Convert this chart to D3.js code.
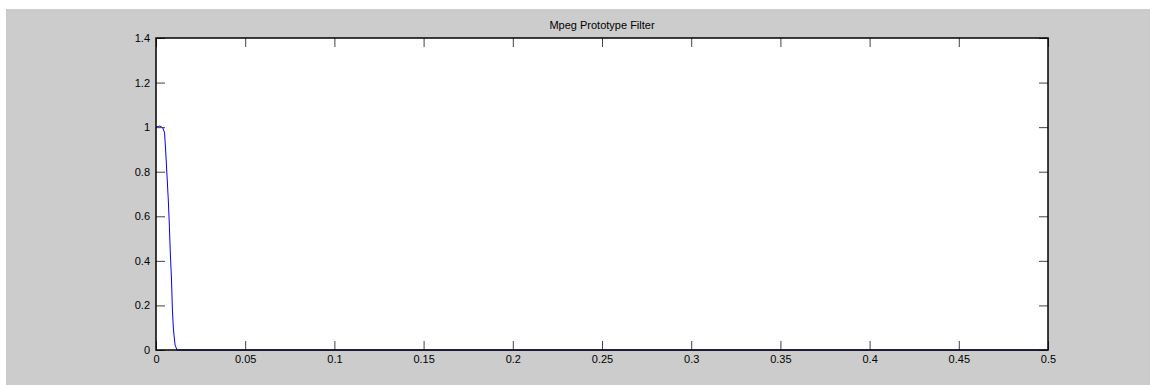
<!DOCTYPE html>
<html lang="en">
<head>
  <meta charset="UTF-8">
  <title>Mpeg Prototype Filter</title>
  <script src="https://d3js.org/d3.v7.min.js"></script>
  <style>
    body { margin: 0; background: #fff; }
    svg { display: block; font-family: "Liberation Sans", Arial, sans-serif; }
    .axis text { font-size: 11px; fill: #000; }
    .axis path { display: none; }
    .axis line { stroke: #444; }
  </style>
</head>
<body>
  <svg width="1150" height="385"></svg>

  <script>
    // frequency response (normalised frequency vs magnitude)
    const freq = [0, 0.0022, 0.0039, 0.0048, 0.0054, 0.0063, 0.0069, 0.0075, 0.0080, 0.0087, 0.0092, 0.0098, 0.0107, 0.0118, 0.05, 0.1, 0.2, 0.3, 0.4, 0.5];
    const magnitude = [1.0, 1.005, 0.996, 0.974, 0.897, 0.763, 0.673, 0.556, 0.44, 0.314, 0.179, 0.09, 0.022, 0, 0, 0, 0, 0, 0, 0];
    const xTicks = [0, 0.05, 0.1, 0.15, 0.2, 0.25, 0.3, 0.35, 0.4, 0.45, 0.5];
    const yTicks = [0, 0.2, 0.4, 0.6, 0.8, 1, 1.2, 1.4];
    const title = "Mpeg Prototype Filter";

    const svg = d3.select("svg");
    const margin = {top: 38, right: 102, bottom: 35, left: 156};
    const width = 1150 - margin.left - margin.right;
    const height = 385 - margin.top - margin.bottom;

    // grey figure background
    svg.append("rect").attr("x", 6).attr("y", 9).attr("width", 1144).attr("height", 376).attr("fill", "#cccccc");

    const chart = svg.append("g").attr("transform", `translate(${margin.left},${margin.top})`);
    chart.append("rect").attr("width", width).attr("height", height).attr("fill", "#fff");

    const x = d3.scaleLinear().domain([0, 0.5]).range([0, width]);
    const y = d3.scaleLinear().domain([0, 1.4]).range([height, 0]);
    const fmt = d => String(+d.toFixed(2));

    const data = freq.map((f, i) => ({f, m: magnitude[i]}));

    chart.append("path")
      .datum(data)
      .attr("fill", "none")
      .attr("stroke", "#0000ff")
      .attr("stroke-width", 1)
      .attr("d", d3.line().x(d => x(d.f)).y(d => y(d.m)));

    // ticks on every side, pointing inward
    chart.append("g").attr("class", "axis")
      .attr("transform", `translate(0,${height})`)
      .call(d3.axisBottom(x).tickValues(xTicks).tickFormat(fmt).tickSizeInner(-9).tickPadding(5));
    chart.append("g").attr("class", "axis")
      .call(d3.axisTop(x).tickValues(xTicks).tickFormat("").tickSizeInner(-9));
    chart.append("g").attr("class", "axis")
      .call(d3.axisLeft(y).tickValues(yTicks).tickFormat(fmt).tickSizeInner(-9).tickPadding(6));
    chart.append("g").attr("class", "axis")
      .attr("transform", `translate(${width},0)`)
      .call(d3.axisRight(y).tickValues(yTicks).tickFormat("").tickSizeInner(-9));

    chart.append("rect")
      .attr("width", width).attr("height", height)
      .attr("fill", "none").attr("stroke", "#000").attr("stroke-width", 1.5);

    svg.append("text")
      .attr("x", margin.left + width / 2)
      .attr("y", 29)
      .attr("text-anchor", "middle")
      .style("font-size", "11px")
      .text(title);
  </script>
</body>
</html>
